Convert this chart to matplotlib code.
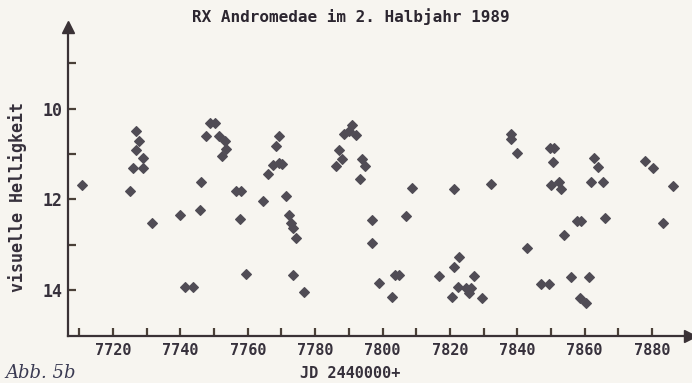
import matplotlib
matplotlib.use("Agg")
import matplotlib.pyplot as plt
from matplotlib.ticker import FuncFormatter

# Julian date (minus 2440000) and visual magnitude
jd = [7710.9, 7726.7, 7727.7, 7726.7, 7728.8, 7725.9, 7728.8, 7725.0, 7731.7, 7739.9,
      7741.3, 7743.7, 7748.8, 7750.3, 7747.6, 7751.6, 7753.2, 7753.5, 7752.5, 7746.0,
      7745.7, 7756.5, 7758.0, 7757.7, 7759.5, 7769.3, 7768.4, 7767.5, 7769.4, 7770.3,
      7766.1, 7764.4, 7771.3, 7772.3, 7772.8, 7773.5, 7774.4, 7773.3, 7776.6, 7790.9,
      7788.5, 7792.2, 7790.1, 7787.2, 7788.0, 7786.2, 7793.9, 7794.7, 7793.4, 7808.7,
      7797.0, 7807.1, 7797.0, 7803.8, 7805.0, 7799.0, 7802.8, 7838.1, 7838.1, 7839.9,
      7849.8, 7851.0, 7850.7, 7849.9, 7852.4, 7852.9, 7821.2, 7832.3, 7843.0, 7822.8,
      7821.1, 7816.9, 7827.1, 7822.3, 7824.8, 7826.3, 7825.8, 7820.7, 7829.6, 7846.9,
      7849.4, 7862.9, 7864.1, 7861.8, 7865.3, 7878.0, 7880.2, 7886.3, 7857.6, 7859.0,
      7866.1, 7853.9, 7883.2, 7856.0, 7861.2, 7858.6, 7860.4]
mag = [11.69, 10.50, 10.72, 10.90, 11.08, 11.30, 11.30, 11.82, 12.53, 12.34,
       13.94, 13.94, 10.31, 10.31, 10.61, 10.61, 10.72, 10.88, 11.05, 11.61,
       12.23, 11.82, 11.82, 12.43, 13.64, 10.61, 10.83, 11.25, 11.20, 11.22,
       11.43, 12.04, 11.93, 12.34, 12.52, 12.63, 12.85, 13.66, 14.04, 10.35,
       10.55, 10.59, 10.50, 10.90, 11.12, 11.27, 11.12, 11.27, 11.56, 11.75,
       12.46, 12.37, 12.96, 13.66, 13.66, 13.85, 14.16, 10.55, 10.66, 10.97,
       10.86, 10.86, 11.18, 11.69, 11.61, 11.78, 11.76, 11.67, 13.07, 13.27,
       13.48, 13.68, 13.68, 13.94, 13.96, 13.96, 14.07, 14.16, 14.18, 13.87,
       13.87, 11.08, 11.29, 11.61, 11.61, 11.16, 11.31, 11.71, 12.48, 12.48,
       12.41, 12.78, 12.51, 13.70, 13.70, 14.18, 14.29]

x_ticks_major = [7720, 7740, 7760, 7780, 7800, 7820, 7840, 7860, 7880]
x_ticks_all = list(range(7710, 7881, 10))
y_ticks_major = [10, 12, 14]
y_ticks_all = [9, 10, 11, 12, 13, 14]

title = "RX Andromedae im 2. Halbjahr 1989"
ylabel = "visuelle Helligkeit"
xlabel = "JD 2440000+"
caption = "Abb. 5b"

bg = "#f7f5f0"
ink = "#37313c"
pt = "#504c55"

W, H = 692, 383
fig = plt.figure(figsize=(W / 100, H / 100), dpi=100, facecolor=bg)
left, right, bottom, top = 68, 690, 336, 27
ax = fig.add_axes([left / W, 1 - bottom / H, (right - left) / W, (bottom - top) / H])
ax.set_facecolor(bg)

ax.plot(jd, mag, linestyle="none", marker="D", markersize=5.0,
        color=pt, markeredgecolor=pt, markeredgewidth=0.8)

ax.set_xlim(7706.64, 7891.27)
ax.set_ylim(15.01, 8.20)

for s in ["top", "right"]:
    ax.spines[s].set_visible(False)
for s in ["left", "bottom"]:
    ax.spines[s].set_color("#3a3236")
    ax.spines[s].set_linewidth(1.6)

ax.set_xticks(x_ticks_all)
ax.set_yticks(y_ticks_all)
ax.xaxis.set_major_formatter(FuncFormatter(lambda v, p: f"{int(round(v))}" if int(round(v)) in x_ticks_major else ""))
ax.yaxis.set_major_formatter(FuncFormatter(lambda v, p: f"{int(round(v))}" if int(round(v)) in y_ticks_major else ""))

ax.tick_params(axis="both", direction="in", length=6, width=1.6, color="#4a4038",
               labelcolor=ink)
ax.tick_params(axis="x", pad=5)
ax.tick_params(axis="y", pad=4)
for lab in ax.get_xticklabels():
    lab.set_family("DejaVu Sans Mono"); lab.set_fontweight("bold"); lab.set_fontsize(11)
for lab in ax.get_yticklabels():
    lab.set_family("DejaVu Sans Mono"); lab.set_fontweight("bold"); lab.set_fontsize(12)

# arrow heads
ax.plot([0], [1], marker="^", markersize=9, color="#3a3236", transform=ax.transAxes, clip_on=False)
ax.plot([1], [0], marker=">", markersize=9, color="#3a3236", transform=ax.transAxes, clip_on=False)

fig.text(351 / W, 1 - 17 / H, title, ha="center", va="center", family="DejaVu Sans Mono",
         fontweight="bold", fontsize=11.5, color="#2c2630")
fig.text(18 / W, 1 - 197 / H, ylabel, ha="center", va="center", rotation=90,
         family="DejaVu Sans Mono", fontweight="bold", fontsize=12, color=ink)
fig.text(350 / W, 1 - 373 / H, xlabel, ha="center", va="center", family="DejaVu Sans Mono",
         fontweight="bold", fontsize=11, color=ink)
fig.text(5 / W, 1 - 373 / H, caption, ha="left", va="center", family="DejaVu Serif",
         style="italic", fontsize=13, color="#3a3a52")

fig.savefig("out.png", dpi=100, facecolor=bg)
